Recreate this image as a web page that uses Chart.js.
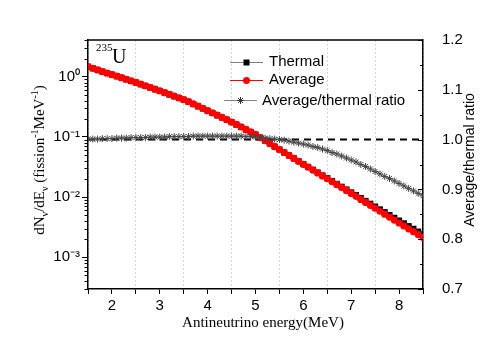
<!DOCTYPE html>
<html>
<head>
<meta charset="utf-8">
<script src="https://cdn.jsdelivr.net/npm/chart.js@4"></script>
<style>
  html, body { margin: 0; padding: 0; background: #fff; }
</style>
</head>
<body>
<canvas id="myChart" width="491" height="347"></canvas>
<script>
// antineutrino energy (MeV)
const energy = [1.5, 1.6, 1.7, 1.8, 1.9, 2.0, 2.1, 2.2, 2.3, 2.4,
  2.5, 2.6, 2.7, 2.8, 2.9, 3.0, 3.1, 3.2, 3.3, 3.4,
  3.5, 3.6, 3.7, 3.8, 3.9, 4.0, 4.1, 4.2, 4.3, 4.4,
  4.5, 4.6, 4.7, 4.8, 4.9, 5.0, 5.1, 5.2, 5.3, 5.4,
  5.5, 5.6, 5.7, 5.8, 5.9, 6.0, 6.1, 6.2, 6.3, 6.4,
  6.5, 6.6, 6.7, 6.8, 6.9, 7.0, 7.1, 7.2, 7.3, 7.4,
  7.5, 7.6, 7.7, 7.8, 7.9, 8.0, 8.1, 8.2, 8.3, 8.4,
  8.5];

const thermal = [1.468, 1.379, 1.296, 1.217, 1.146, 1.082, 1.018, 0.959, 0.903, 0.850,
  0.801, 0.750, 0.703, 0.659, 0.618, 0.579, 0.542, 0.506, 0.473, 0.443,
  0.414, 0.383, 0.351, 0.322, 0.296, 0.271, 0.249, 0.228, 0.210, 0.192,
  0.176, 0.160, 0.146, 0.132, 0.120, 0.109, 0.0973, 0.0868, 0.0774, 0.0691,
  0.0617, 0.0552, 0.0493, 0.0442, 0.0396, 0.0354, 0.0317, 0.0285, 0.0256, 0.0229,
  0.0207, 0.0185, 0.0166, 0.0149, 0.0134, 0.0120, 0.0108, 0.00964, 0.00865, 0.00777,
  0.00698, 0.00626, 0.00563, 0.00505, 0.00454, 0.00408, 0.00367, 0.00330, 0.00298, 0.00268,
  0.00241];

const average = [1.469, 1.380, 1.297, 1.219, 1.148, 1.084, 1.021, 0.962, 0.906, 0.853,
  0.804, 0.753, 0.706, 0.662, 0.621, 0.582, 0.545, 0.509, 0.476, 0.446,
  0.417, 0.385, 0.353, 0.324, 0.298, 0.273, 0.251, 0.230, 0.211, 0.193,
  0.177, 0.161, 0.147, 0.133, 0.121, 0.110, 0.0977, 0.0871, 0.0776, 0.0692,
  0.0617, 0.0551, 0.0492, 0.0440, 0.0393, 0.0351, 0.0314, 0.0281, 0.0252, 0.0225,
  0.0202, 0.0180, 0.0161, 0.0144, 0.0129, 0.0115, 0.0103, 0.00916, 0.00818, 0.00731,
  0.00653, 0.00583, 0.00521, 0.00466, 0.00416, 0.00372, 0.00333, 0.00298, 0.00267, 0.00239,
  0.00214];

const ratio = [1.001, 1.001, 1.001, 1.002, 1.002, 1.002, 1.003, 1.003, 1.003, 1.004,
  1.004, 1.004, 1.004, 1.005, 1.005, 1.005, 1.005, 1.006, 1.006, 1.006,
  1.006, 1.006, 1.007, 1.007, 1.007, 1.007, 1.007, 1.007, 1.007, 1.007,
  1.007, 1.007, 1.007, 1.006, 1.006, 1.005, 1.004, 1.003, 1.002, 1.001,
  1.000, 0.999, 0.997, 0.995, 0.993, 0.991, 0.989, 0.986, 0.984, 0.981,
  0.978, 0.974, 0.971, 0.967, 0.963, 0.959, 0.955, 0.950, 0.946, 0.941,
  0.936, 0.931, 0.926, 0.922, 0.917, 0.912, 0.907, 0.902, 0.897, 0.892,
  0.887];

// reference line at ratio = 1
const refLineX = [1.5, 8.5];
const refLineY = [1.0, 1.0];

// tick positions
const xTicks = [1.5, 2, 2.5, 3, 3.5, 4, 4.5, 5, 5.5, 6, 6.5, 7, 7.5, 8, 8.5];
const yDecades = [1e-3, 1e-2, 1e-1, 1];
const y2Ticks = [0.7, 0.75, 0.8, 0.85, 0.9, 0.95, 1.0, 1.05, 1.1, 1.15, 1.2];

const SANS = '"Liberation Sans", Arial, sans-serif';
const SERIF = '"Liberation Serif", "Times New Roman", serif';

const toXY = (ys) => energy.map((e, i) => ({ x: e, y: ys[i] }));

const supMap = { '-': '\u207B', '0': '\u2070', '1': '\u00B9', '2': '\u00B2', '3': '\u00B3' };
function sup(n) {
  return String(n).split('').map(c => supMap[c] || c).join('');
}

// draws a string made of pieces with different sizes / offsets, centred at cx,cy
function richText(ctx, parts, cx, cy, rot, family) {
  ctx.save();
  ctx.translate(cx, cy);
  ctx.rotate(rot);
  ctx.fillStyle = '#000';
  ctx.textBaseline = 'alphabetic';
  let w = 0;
  parts.forEach(p => { ctx.font = p[1] + 'px ' + family; w += ctx.measureText(p[0]).width; });
  let x = -w / 2;
  parts.forEach(p => {
    ctx.font = p[1] + 'px ' + family;
    ctx.fillText(p[0], x, p[2]);
    x += ctx.measureText(p[0]).width;
  });
  ctx.restore();
}

function star(ctx, x, y, r) {
  ctx.beginPath();
  ctx.moveTo(x - r, y); ctx.lineTo(x + r, y);
  ctx.moveTo(x, y - r); ctx.lineTo(x, y + r);
  const d = r * Math.SQRT1_2;
  ctx.moveTo(x - d, y - d); ctx.lineTo(x + d, y + d);
  ctx.moveTo(x - d, y + d); ctx.lineTo(x + d, y - d);
  ctx.stroke();
}

const decor = {
  id: 'decor',
  afterDraw(chart) {
    const ctx = chart.ctx;
    const a = chart.chartArea;
    const ys = chart.scales.y;
    const y2 = chart.scales.y2;
    ctx.save();
    ctx.strokeStyle = '#000';

    // top frame line
    ctx.lineWidth = 1.5;
    ctx.beginPath();
    ctx.moveTo(a.left, a.top);
    ctx.lineTo(a.right, a.top);
    ctx.stroke();

    // minor log ticks (outward, left)
    ctx.lineWidth = 1;
    for (let k = -4; k <= 0; k++) {
      for (let m = 2; m <= 9; m++) {
        const v = m * Math.pow(10, k);
        if (v < ys.min || v > ys.max) continue;
        const py = Math.round(ys.getPixelForValue(v)) + 0.5;
        ctx.beginPath();
        ctx.moveTo(a.left - 3.5, py);
        ctx.lineTo(a.left, py);
        ctx.stroke();
      }
    }

    // right axis ticks (inward)
    y2Ticks.forEach((v, i) => {
      const py = Math.round(y2.getPixelForValue(v)) + 0.5;
      const len = i % 2 === 0 ? 5 : 3;
      ctx.beginPath();
      ctx.moveTo(a.right, py);
      ctx.lineTo(a.right - len, py);
      ctx.stroke();
    });

    // axis titles
    richText(ctx, [
      ['dN', 15, 0], ['\u03BD', 10, 4], ['/dE', 15, 0], ['\u03BD', 10, 4],
      [' (fission', 15, 0], ['-1', 10, -6], ['MeV', 15, 0], ['-1', 10, -6], [')', 15, 0]
    ], 44, 160, -Math.PI / 2, SERIF);
    richText(ctx, [['Average/thermal ratio', 14, 0]], 474, 160, -Math.PI / 2, SANS);
    richText(ctx, [['Antineutrino energy(MeV)', 15, 0]], 263, 327, 0, SERIF);

    // isotope label
    ctx.fillStyle = '#000';
    ctx.textBaseline = 'alphabetic';
    ctx.font = '11px ' + SERIF;
    ctx.fillText('235', 96, 51);
    ctx.font = '20px ' + SERIF;
    ctx.fillText('U', 112, 63);

    // legend
    ctx.font = '15px ' + SANS;
    ctx.textBaseline = 'middle';
    ctx.lineWidth = 1;
    // Thermal
    ctx.strokeStyle = '#808080';
    ctx.beginPath(); ctx.moveTo(230, 62.5); ctx.lineTo(263, 62.5); ctx.stroke();
    ctx.fillStyle = '#000';
    ctx.fillRect(243.5, 59.5, 6, 6);
    ctx.fillText('Thermal', 269, 62);
    // Average
    ctx.strokeStyle = '#ff0000';
    ctx.beginPath(); ctx.moveTo(230, 80.5); ctx.lineTo(263, 80.5); ctx.stroke();
    ctx.fillStyle = '#ff0000';
    ctx.beginPath(); ctx.arc(246.5, 80.5, 3.5, 0, Math.PI * 2); ctx.fill();
    ctx.fillStyle = '#000';
    ctx.fillText('Average', 269, 80);
    // ratio
    ctx.strokeStyle = '#808080';
    ctx.beginPath(); ctx.moveTo(224, 100.5); ctx.lineTo(257, 100.5); ctx.stroke();
    ctx.strokeStyle = '#333';
    star(ctx, 240.5, 100.5, 3.5);
    ctx.fillStyle = '#000';
    ctx.fillText('Average/thermal ratio', 262, 100.5);

    ctx.restore();
  }
};

Chart.defaults.font.family = SANS;
Chart.defaults.font.size = 15;
Chart.defaults.color = '#000';

const chartCtx = document.getElementById('myChart').getContext('2d');

const myChart = new Chart(chartCtx, {
  type: 'line',
  data: {
    datasets: [
      {
        label: 'Average/thermal ratio',
        data: toXY(ratio),
        yAxisID: 'y2',
        borderColor: '#888',
        borderWidth: 1,
        pointStyle: 'star',
        pointRadius: 3.5,
        pointBorderColor: '#444',
        pointBorderWidth: 1,
        pointBackgroundColor: '#444',
        order: 1,
      },
      {
        label: 'Average',
        data: toXY(average),
        yAxisID: 'y',
        borderColor: '#ff0000',
        borderWidth: 1,
        pointStyle: 'circle',
        pointRadius: 3.6,
        pointBorderWidth: 0,
        pointBackgroundColor: '#ff0000',
        order: 2,
      },
      {
        label: 'Thermal',
        data: toXY(thermal),
        yAxisID: 'y',
        borderColor: '#000',
        borderWidth: 1,
        pointStyle: 'rect',
        pointRadius: 4.3,
        pointBorderWidth: 0,
        pointBackgroundColor: '#000',
        order: 3,
      },
      {
        label: 'ref',
        data: refLineX.map((x, i) => ({ x: x, y: refLineY[i] })),
        yAxisID: 'y2',
        borderColor: '#000',
        borderWidth: 2,
        borderDash: [7, 5],
        pointRadius: 0,
        order: 4,
      },
    ],
  },
  options: {
    responsive: false,
    animation: false,
    layout: { padding: { left: 0, right: 0, top: 40, bottom: 0 } },
    plugins: {
      legend: { display: false },
      tooltip: { enabled: false },
    },
    scales: {
      x: {
        type: 'linear',
        min: 1.5,
        max: 8.5,
        afterFit(s) { s.height = 58; },
        afterBuildTicks(s) { s.ticks = xTicks.map(v => ({ value: v })); },
        ticks: {
          autoSkip: false,
          maxRotation: 0,
          padding: 3,
          callback: (v) => (Number.isInteger(v) ? String(v) : ''),
        },
        grid: {
          color: (c) => (c.tick && Math.abs(c.tick.value % 1 - 0.5) < 1e-6 ? '#d4d4d4' : 'rgba(0,0,0,0)'),
          lineWidth: 1,
          tickColor: '#000',
          tickLength: 5,
          tickWidth: 1,
        },
        border: { color: '#000', width: 1.5, dash: [2, 2] },
      },
      y: {
        type: 'logarithmic',
        position: 'left',
        min: 2.98e-4,
        max: 4.07,
        afterFit(s) { s.width = 88; },
        afterBuildTicks(s) { s.ticks = yDecades.map(v => ({ value: v })); },
        ticks: {
          padding: 2,
          callback: (v) => '10' + sup(Math.round(Math.log10(v))),
        },
        grid: {
          drawOnChartArea: false,
          tickLength: 6,
          tickColor: '#000',
          color: '#000',
        },
        border: { color: '#000', width: 1.5 },
      },
      y2: {
        type: 'linear',
        position: 'right',
        min: 0.7,
        max: 1.2,
        afterFit(s) { s.width = 68; },
        ticks: {
          stepSize: 0.1,
          padding: 11,
          callback: (v) => v.toFixed(1),
        },
        grid: { display: false },
        border: { color: '#000', width: 1.5 },
      },
    },
  },
  plugins: [decor],
});
</script>
</body>
</html>
